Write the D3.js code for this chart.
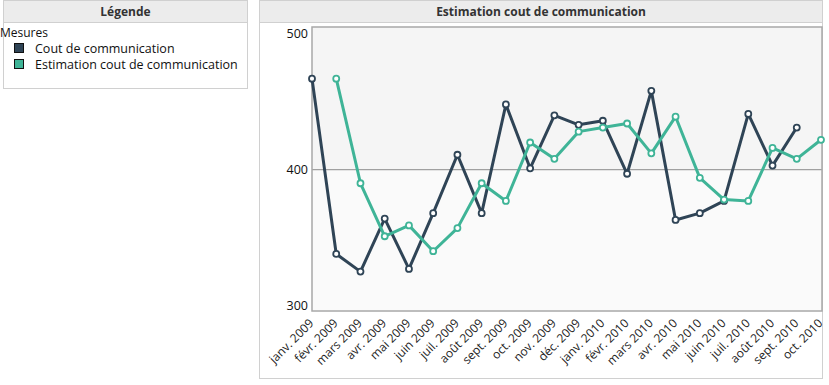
<!DOCTYPE html>
<html>
<head>
<meta charset="utf-8">
<script src="https://cdn.jsdelivr.net/npm/d3@7"></script>
<style>
  body { margin: 0; background: #fff; }
  svg { font-family: "Open Sans", "DejaVu Sans", sans-serif; }
</style>
</head>
<body>
<svg id="chart" width="829" height="385"></svg>
<script>
// months shown on the x axis
const months = ["janv. 2009", "févr. 2009", "mars 2009", "avr. 2009", "mai 2009", "juin 2009",
    "juil. 2009", "août 2009", "sept. 2009", "oct. 2009", "nov. 2009", "déc. 2009",
    "janv. 2010", "févr. 2010", "mars 2010", "avr. 2010", "mai 2010", "juin 2010",
    "juil. 2010", "août 2010", "sept. 2010", "oct. 2010"];

// Cout de communication (janv. 2009 -> sept. 2010)
const coutMonths = months.slice(0, 21);
const coutValues = [467, 338, 325, 364, 327, 368, 411, 368, 448, 401, 440, 433,
    436, 397, 458, 363, 368, 377, 441, 403, 431];

// Estimation cout de communication (févr. 2009 -> oct. 2010)
const estMonths = months.slice(1);
const estValues = [467, 390, 351, 359, 340, 357, 390, 377, 420, 408, 428,
    431, 434, 412, 439, 394, 378, 377, 416, 408, 422];

const yTicks = [300, 400, 500];
const threshold = 400;

const seriesNames = ["Cout de communication", "Estimation cout de communication"];
const seriesColors = ["#2f4456", "#3fb497"];

const svg = d3.select("#chart");

/** draws a panel with a grey title bar */
function panel(x, y, w, h, title) {
    let g = svg.append("g").attr("transform", `translate(${x},${y})`);
    g.append("rect").attr("x", 0.5).attr("y", 0.5).attr("width", w - 1).attr("height", h - 1)
        .attr("fill", "#fff").attr("stroke", "#d0d0d0");
    g.append("rect").attr("x", 0.5).attr("y", 0.5).attr("width", w - 1).attr("height", 22)
        .attr("fill", "#ececec").attr("stroke", "#d0d0d0");
    g.append("text").attr("x", w / 2).attr("y", 16).attr("text-anchor", "middle")
        .style("font-size", "12px").style("font-weight", "bold").attr("fill", "#333")
        .text(title);
    return g;
}

// legend panel
let legend = panel(3, 0, 245, 89, "Légende");
legend.append("text").attr("x", -3).attr("y", 37).style("font-size", "12px").attr("fill", "#111")
    .text("Mesures");
let items = legend.selectAll("g.item").data(seriesNames).enter().append("g")
    .attr("class", "item")
    .attr("transform", (d, i) => `translate(11, ${43 + i * 16})`);
items.append("rect").attr("x", 0.5).attr("y", 0.5).attr("width", 9).attr("height", 9)
    .attr("fill", (d, i) => seriesColors[i]).attr("stroke", "#111");
items.append("text").attr("x", 21).attr("y", 9.5).style("font-size", "12.5px").attr("fill", "#111")
    .text(d => d);

// chart panel
panel(259, 0, 564, 379, "Estimation cout de communication");

const plot = { left: 312, right: 822, top: 27, bottom: 311 };

const x = d3.scalePoint().domain(months).range([plot.left, plot.right - 1]);
const y = d3.scaleLinear().domain([296, 505]).range([plot.bottom, plot.top]);

// backgrounds above / below the reference line
svg.append("rect").attr("x", plot.left).attr("y", plot.top)
    .attr("width", plot.right - plot.left).attr("height", y(threshold) - plot.top)
    .attr("fill", "#f5f5f5");
svg.append("rect").attr("x", plot.left).attr("y", y(threshold))
    .attr("width", plot.right - plot.left).attr("height", plot.bottom - y(threshold))
    .attr("fill", "#fafafa");
svg.append("line").attr("x1", plot.left).attr("x2", plot.right)
    .attr("y1", y(threshold)).attr("y2", y(threshold))
    .attr("stroke", "#a0a0a0").attr("stroke-width", 1.3);
svg.append("rect").attr("x", plot.left).attr("y", plot.top)
    .attr("width", plot.right - plot.left).attr("height", plot.bottom - plot.top)
    .attr("fill", "none").attr("stroke", "#a8a8a8").attr("stroke-width", 1.5);

// y axis
let yAxis = svg.append("g").attr("transform", `translate(${plot.left},0)`)
    .call(d3.axisLeft(y).tickValues(yTicks).tickSize(0).tickPadding(4));
yAxis.select(".domain").remove();
yAxis.selectAll("text").style("font-size", "12.5px").attr("fill", "#111")
    .style("font-family", "\"Open Sans\", sans-serif");

// x axis, labels turned -45 degrees and ending at their tick
let xAxis = svg.append("g").attr("transform", `translate(0,${plot.bottom})`)
    .call(d3.axisBottom(x).tickSize(0));
xAxis.select(".domain").remove();
xAxis.selectAll("text")
    .style("font-size", "12px").attr("fill", "#1c1c1c")
    .style("font-family", "\"Open Sans\", sans-serif")
    .attr("text-anchor", "end")
    .attr("y", 0)
    .attr("dy", "0.35em")
    .attr("transform", "translate(-1,10) rotate(-45)");

// series lines and markers
const series = [
    { name: seriesNames[0], cats: coutMonths, vals: coutValues, color: seriesColors[0] },
    { name: seriesNames[1], cats: estMonths, vals: estValues, color: seriesColors[1] }
];

const line = d3.line().x(d => x(d[0])).y(d => y(d[1]));

for (let s of series) {
    let pts = s.cats.map((c, i) => [c, s.vals[i]]);
    svg.append("path").datum(pts).attr("d", line)
        .attr("fill", "none").attr("stroke", s.color).attr("stroke-width", 3)
        .attr("stroke-linejoin", "round");
    svg.append("g").selectAll("circle").data(pts).enter().append("circle")
        .attr("cx", d => x(d[0])).attr("cy", d => y(d[1])).attr("r", 3)
        .attr("fill", "#fff").attr("stroke", s.color).attr("stroke-width", 1.8);
}
</script>
</body>
</html>
